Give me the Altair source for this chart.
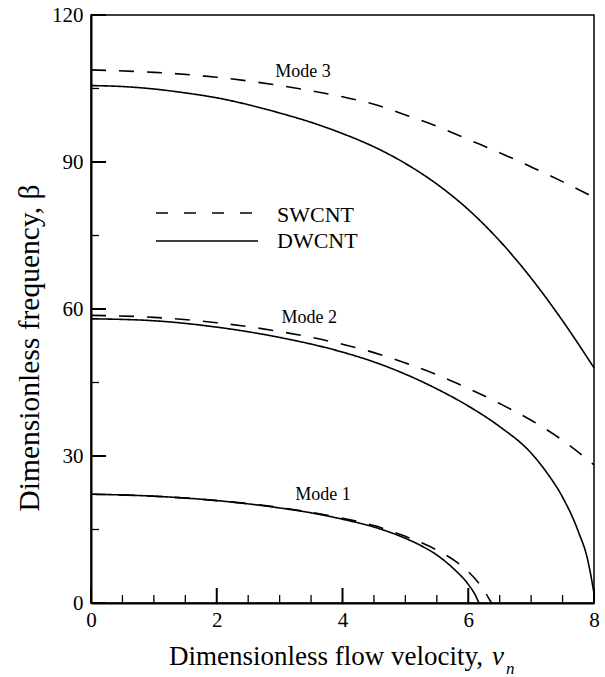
import altair as alt
import pandas as pd

# ---------------- data ----------------
m1_dw_x = [0, 1, 2, 3, 3.5, 4, 4.5, 5, 5.25, 5.5, 5.75, 6, 6.1, 6.17]
m1_dw_y = [22.2, 21.8, 20.9, 19.4, 18.4, 17.1, 15.5, 13.2, 11.7, 9.8, 7.2, 3.8, 1.9, 0]
m1_sw_x = [0, 1, 2, 3, 3.5, 4, 4.5, 5, 5.5, 5.8, 6.0, 6.2, 6.37]
m1_sw_y = [22.2, 21.8, 20.9, 19.5, 18.5, 17.3, 15.8, 13.6, 10.8, 8.5, 6.4, 3.5, 0]

m2_dw_x = [0, 1, 2, 3, 4, 4.5, 5, 5.5, 6, 6.5, 7, 7.25, 7.5, 7.75, 7.9, 8]
m2_dw_y = [58.0, 57.6, 56.3, 54.2, 51.2, 49.2, 46.7, 43.7, 40.2, 36.0, 30.6, 26.6, 21.6, 14.6, 8.8, 2.0]
m2_sw_x = [0, 1, 2, 3, 4, 4.5, 5, 5.5, 6, 6.5, 7, 7.5, 8]
m2_sw_y = [58.7, 58.3, 57.2, 55.4, 52.8, 51.1, 49.0, 46.6, 43.8, 40.7, 37.3, 33.2, 28.2]

m3_dw_x = [0, 0.5, 1, 1.5, 2, 2.5, 3, 3.5, 4, 4.5, 5, 5.5, 6, 6.5, 7, 7.5, 8]
m3_dw_y = [105.6, 105.4, 104.9, 104.1, 103.1, 101.7, 100.0, 98.1, 95.8, 93.1, 89.7, 85.5, 80.3, 73.9, 66.3, 57.6, 48.0]
m3_sw_x = [0, 1, 2, 3, 4, 4.5, 5, 5.5, 6, 6.5, 7, 7.5, 8]
m3_sw_y = [108.8, 108.3, 107.3, 105.6, 103.3, 101.8, 99.6, 97.3, 94.6, 91.9, 89.0, 86.0, 82.8]

mode_labels = ["Mode 1", "Mode 2", "Mode 3"]
mode_label_x = [3.69, 3.47, 3.37]
mode_label_y = [22.1, 58.2, 108.3]

x_major = [0, 2, 4, 6, 8]
x_minor = [0.5, 1, 1.5, 2.5, 3, 3.5, 4.5, 5, 5.5, 6.5, 7, 7.5]
y_major = [0, 30, 60, 90, 120]
y_minor = [15, 45, 75, 105]

series_names = ["SWCNT", "DWCNT"]

# ---------------- tables ----------------
curves = [
    ("Mode 1", "DWCNT", m1_dw_x, m1_dw_y),
    ("Mode 1", "SWCNT", m1_sw_x, m1_sw_y),
    ("Mode 2", "DWCNT", m2_dw_x, m2_dw_y),
    ("Mode 2", "SWCNT", m2_sw_x, m2_sw_y),
    ("Mode 3", "DWCNT", m3_dw_x, m3_dw_y),
    ("Mode 3", "SWCNT", m3_sw_x, m3_sw_y),
]
rows = []
for mode, ser, xs_, ys_ in curves:
    for xv, yv in zip(xs_, ys_):
        rows.append({"curve": mode + " " + ser, "series": ser, "v": xv, "beta": yv})
df = pd.DataFrame(rows)

labels_df = pd.DataFrame({"text": mode_labels, "v": mode_label_x, "beta": mode_label_y})

W, H = 503, 588
FONT = "Liberation Serif"

xs = alt.Scale(domain=[0, 8], nice=False, zero=False)
ys = alt.Scale(domain=[0, 120], nice=False, zero=False)
x_axis = alt.Axis(values=x_major, title=None, labelPadding=6, ticks=False)
y_axis = alt.Axis(values=y_major, title=None, labelPadding=8, ticks=False)

lines = alt.Chart(df).mark_line(color="black", strokeWidth=1.6, interpolate="monotone").encode(
    x=alt.X("v:Q", scale=xs, axis=x_axis),
    y=alt.Y("beta:Q", scale=ys, axis=y_axis),
    strokeDash=alt.StrokeDash("series:N", scale=alt.Scale(domain=series_names, range=[[15, 13], [1, 0]]), legend=None),
    detail="curve:N",
    order="v:Q",
)

# inward ticks (drawn last, on top of everything)
xmaj = alt.Chart(pd.DataFrame({"v": x_major})).mark_rule(color="black", strokeWidth=2).encode(
    x=alt.X("v:Q", scale=xs, axis=x_axis), y=alt.value(H), y2=alt.value(H - 15))
xmin = alt.Chart(pd.DataFrame({"v": x_minor})).mark_rule(color="black", strokeWidth=1.3).encode(
    x=alt.X("v:Q", scale=xs, axis=x_axis), y=alt.value(H), y2=alt.value(H - 8))
ymaj = alt.Chart(pd.DataFrame({"beta": y_major})).mark_rule(color="black", strokeWidth=2).encode(
    y=alt.Y("beta:Q", scale=ys, axis=y_axis), x=alt.value(0), x2=alt.value(15))
ymin = alt.Chart(pd.DataFrame({"beta": y_minor})).mark_rule(color="black", strokeWidth=1.3).encode(
    y=alt.Y("beta:Q", scale=ys, axis=y_axis), x=alt.value(0), x2=alt.value(8))

mode_text = alt.Chart(labels_df).mark_text(font=FONT, fontSize=18, color="black", align="center", baseline="middle").encode(
    x=alt.X("v:Q", scale=xs, axis=x_axis), y=alt.Y("beta:Q", scale=ys, axis=y_axis), text="text:N")

one = pd.DataFrame({"k": [0]})
leg_sw = alt.Chart(one).mark_rule(color="black", strokeWidth=1.6, strokeDash=[12, 16]).encode(
    x=alt.value(65), x2=alt.value(167), y=alt.value(198))
leg_dw = alt.Chart(one).mark_rule(color="black", strokeWidth=1.6).encode(
    x=alt.value(65), x2=alt.value(167), y=alt.value(226))
leg_sw_t = alt.Chart(one).mark_text(font=FONT, fontSize=22, color="black", align="left", baseline="middle").encode(
    x=alt.value(186), y=alt.value(200), text=alt.value(series_names[0]))
leg_dw_t = alt.Chart(one).mark_text(font=FONT, fontSize=22, color="black", align="left", baseline="middle").encode(
    x=alt.value(186), y=alt.value(226), text=alt.value(series_names[1]))

xt_main = alt.Chart(one).mark_text(font=FONT, fontSize=27, color="black", align="right", baseline="alphabetic").encode(
    x=alt.value(392), y=alt.value(650), text=alt.value("Dimensionless flow velocity,"))
xt_v = alt.Chart(one).mark_text(font=FONT, fontSize=27, fontStyle="italic", color="black", align="left", baseline="alphabetic").encode(
    x=alt.value(401), y=alt.value(650), text=alt.value("v"))
xt_n = alt.Chart(one).mark_text(font=FONT, fontSize=17, fontStyle="italic", color="black", align="left", baseline="alphabetic").encode(
    x=alt.value(415), y=alt.value(659), text=alt.value("n"))
yt = alt.Chart(one).mark_text(font=FONT, fontSize=29.5, color="black", align="center", baseline="middle", angle=270).encode(
    x=alt.value(-61), y=alt.value(333), text=alt.value("Dimensionless frequency, β"))

chart = alt.layer(
    lines, mode_text,
    leg_sw, leg_dw, leg_sw_t, leg_dw_t, xt_main, xt_v, xt_n, yt,
    xmaj, xmin, ymaj, ymin,
).properties(
    width=W, height=H,
    autosize=alt.AutoSizeParams(type="none"),
    padding={"left": 91, "top": 15, "right": 11, "bottom": 74},
    background="white",
).configure_view(
    stroke="black", strokeWidth=1.5,
).configure_axis(
    labelFont=FONT, labelFontSize=21, labelColor="black",
    domainColor="black", domainWidth=2,
    grid=False, labelFlush=False,
)

chart.save("out.html", embed_options={"renderer": "svg", "actions": False})
